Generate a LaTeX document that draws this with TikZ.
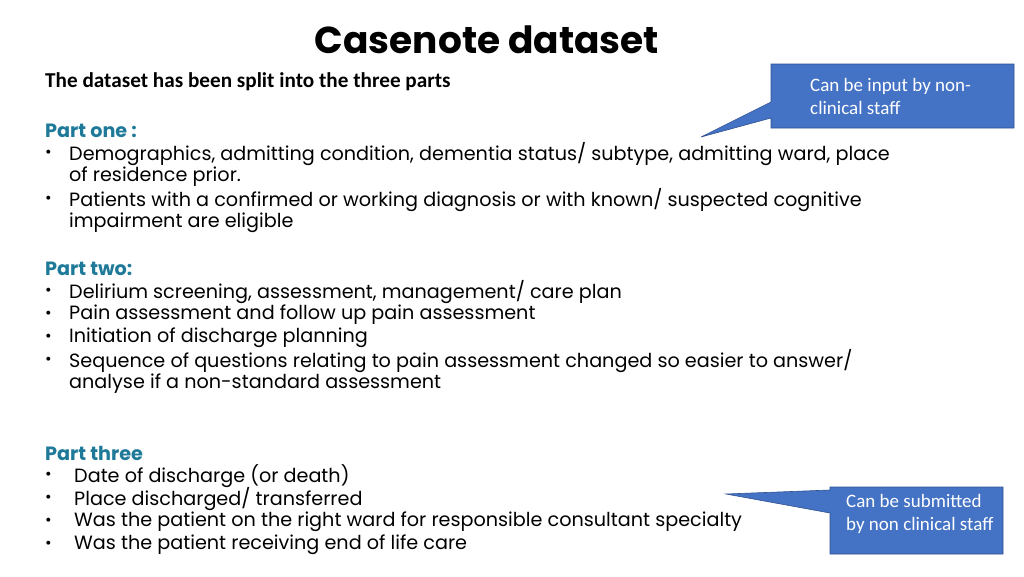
\documentclass[tikz,border=0pt]{standalone}
\usepackage{fontspec}
\setmainfont{Poppins}
\newfontfamily\carlitofont{Carlito}
\definecolor{headteal}{HTML}{1F7A99}
\definecolor{callblue}{HTML}{4472C4}
\definecolor{callline}{HTML}{2F528F}
\begin{document}
\begin{tikzpicture}[x=1pt,y=-1pt,
  txt/.style={anchor=west,inner sep=0,font=\fontsize{19.2}{22}\selectfont},
  head/.style={anchor=west,inner sep=0,font=\fontsize{19.2}{22}\selectfont\bfseries,text=headteal},
  bul/.style={anchor=west,inner sep=0,font=\fontsize{16}{20}\selectfont},
  call/.style={fill=callblue,draw=callline,line width=0.6pt},
  ctext/.style={anchor=north west,inner sep=0,align=left,text=white,font=\carlitofont\fontsize{19}{23}\selectfont}]
\useasboundingbox (0,0) rectangle (1024,576);
\node[inner sep=0,font=\fontsize{37.5}{40}\selectfont\bfseries] (title) at (487,40) {Casenote dataset};
\node[anchor=west,inner sep=0,font=\carlitofont\fontsize{21.2}{24}\selectfont\bfseries] (intro) at (45,82) {The dataset has been split into the three parts};
\node[head] (p1) at (45,131) {Part one :};
\foreach \y/\t in {154/{Demographics, admitting condition, dementia status/ subtype, admitting ward, place},177/{of residence prior.},200/{Patients with a confirmed or working diagnosis or with known/ suspected cognitive},223/{impairment are eligible}}
  \node[txt] at (69,\y) {\t};
\foreach \y in {154,200} \node[bul] at (45,\y) {•};
\node[head] (p2) at (45,269) {Part two:};
\foreach \y/\t in {292/{Delirium screening, assessment, management/ care plan},315/{Pain assessment and follow up pain assessment},338/{Initiation of discharge planning},361/{Sequence of questions relating to pain assessment changed so easier to answer/},384/{analyse if a non-standard assessment}}
  \node[txt] at (69,\y) {\t};
\foreach \y in {292,315,338,361} \node[bul] at (45,\y) {•};
\node[head] (p3) at (45,453) {Part three};
\foreach \y/\t in {476/{Date of discharge (or death)},499/{Place discharged/ transferred},522/{Was the patient on the right ward for responsible consultant specialty},545/{Was the patient receiving end of life care}}
  {\node[txt] at (74,\y) {\t}; \node[bul] at (45,\y) {•};}
\draw[call] (771,64) -- (1014,64) -- (1014,128) -- (771,128) -- (771,118) -- (701,137) -- (771,102) -- cycle;
\node[ctext] (c1) at (810,78) {Can be input by non-\\clinical staff};
\draw[call] (830,487) -- (1003,487) -- (1003,554) -- (830,554) -- (830,513) -- (726,494) -- (830,490) -- cycle;
\node[ctext] (c2) at (846,494) {Can be submitted\\by non clinical staff};
\end{tikzpicture}
\end{document}
